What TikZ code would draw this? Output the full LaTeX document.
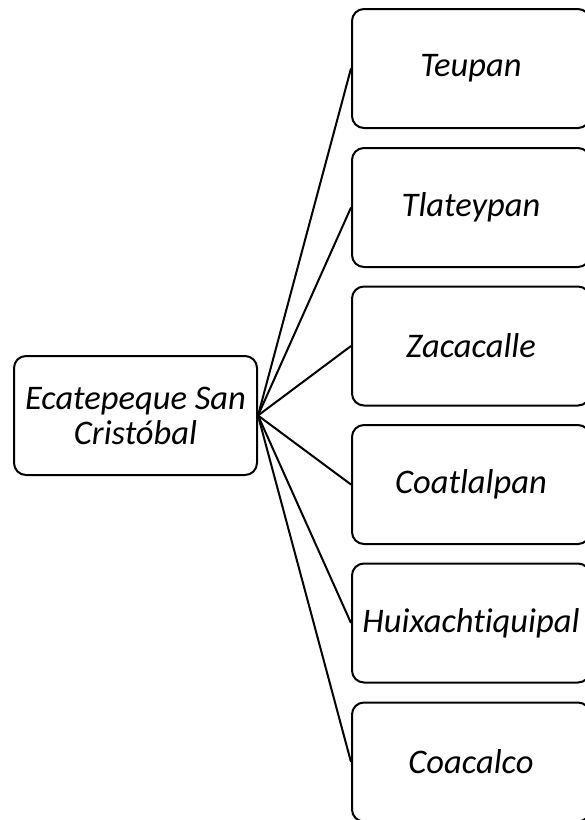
\documentclass[tikz,border=0pt]{standalone}
\usepackage{fontspec}
\setmainfont{Carlito}[Ligatures={NoCommon}]
\begin{document}
\begin{tikzpicture}[x=1pt,y=-1pt,
  box/.style={draw=black,line width=2pt,rounded corners=12pt,fill=white,
    minimum height=119pt,align=center,inner sep=0pt,
    font=\fontsize{34.5}{35}\selectfont\itshape},
  link/.style={draw=black,line width=2pt}]
\useasboundingbox (0,0) rectangle (585,820);
\begin{scope}
\clip (0,0) rectangle (585,820);
\node[box,minimum width=243pt] (root) at (135.5,415.5) {Ecatepeque San\\Cristóbal};
\node[box,minimum width=238pt] (c1) at (471,68.5) {Teupan};
\node[box,minimum width=238pt] (c2) at (471,207.5) {Tlateypan};
\node[box,minimum width=238pt] (c3) at (471,346) {Zacacalle};
\node[box,minimum width=238pt] (c4) at (471,484.5) {Coatlalpan};
\node[box,minimum width=238pt] (c5) at (471,623) {Huixachtiquipal};
\node[box,minimum width=238pt] (c6) at (471,762) {Coacalco};
\foreach \c in {c1,c2,c3,c4,c5,c6}
  \draw[link] (root.east) -- (\c.west);
\end{scope}
\end{tikzpicture}
\end{document}
